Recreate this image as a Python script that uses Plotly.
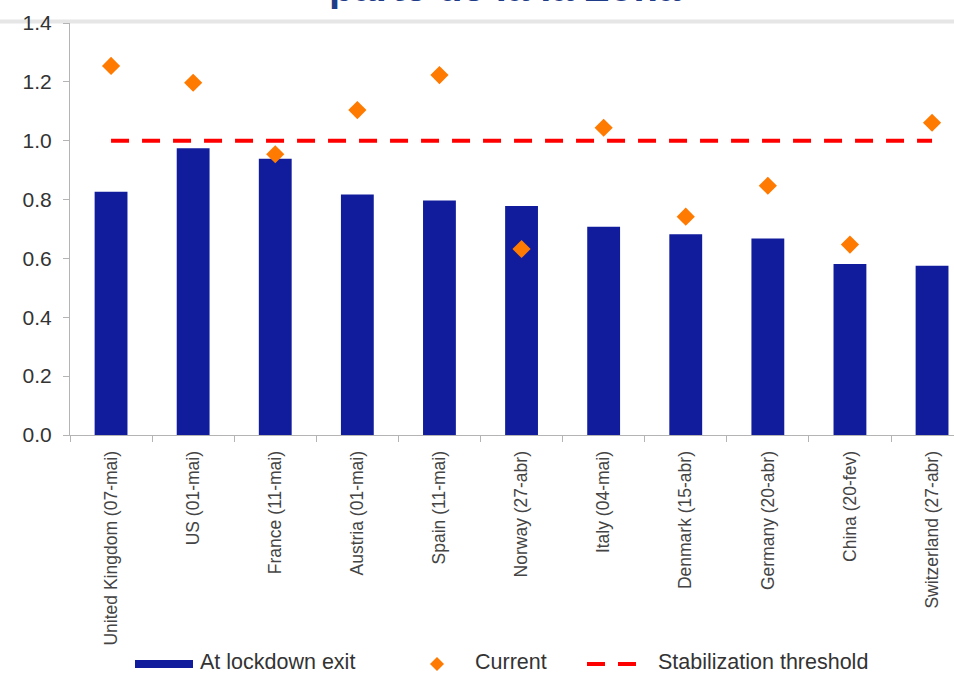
import plotly.graph_objects as go

# Data: reproduction number by country (date of lockdown exit in brackets)
countries = [
    "United Kingdom (07-mai)", "US (01-mai)", "France (11-mai)", "Austria (01-mai)",
    "Spain (11-mai)", "Norway (27-abr)", "Italy (04-mai)", "Denmark (15-abr)",
    "Germany (20-abr)", "China (20-fev)", "Switzerland (27-abr)",
]
at_lockdown_exit = [0.827, 0.974, 0.939, 0.817, 0.797, 0.778, 0.708, 0.682, 0.668, 0.581, 0.575]
current = [1.254, 1.197, 0.954, 1.104, 1.223, 0.632, 1.044, 0.742, 0.847, 0.647, 1.061]
threshold = [1.0] * len(countries)
y_ticks = [0.0, 0.2, 0.4, 0.6, 0.8, 1.0, 1.2, 1.4]
title_text = "parte de la la Zona"
series_names = ["At lockdown exit", "Current", "Stabilization threshold"]

BLUE = "#101C9C"
ORANGE = "#FF7A00"
RED = "#FF0000"
AXIS = "#b4b4b4"
TEXT = "#333333"
FONT = "Liberation Sans, Arial, sans-serif"

# plot-area geometry in pixels (used to place the key and annotations in paper units)
W_FIG, H_FIG = 954, 675
L, T, B = 70, 23, 435
PW, PH = W_FIG - L, B - T


def px_x(px):
    return (px - L) / PW


def px_y(py):
    return (B - py) / PH


fig = go.Figure()

fig.add_trace(go.Bar(
    x=countries, y=at_lockdown_exit, width=0.4,
    marker=dict(color=BLUE, line=dict(width=0)),
    name=series_names[0],
))
fig.add_trace(go.Scatter(
    x=countries, y=threshold, mode="lines",
    line=dict(color=RED, width=4, dash="18px,13px"),
    name=series_names[2],
))
fig.add_trace(go.Scatter(
    x=countries, y=current, mode="markers",
    marker=dict(symbol="diamond", size=14, color=ORANGE),
    name=series_names[1],
))

# key below the chart: symbols as shapes, labels as annotations
KEY_Y = px_y(664)
key_shapes = [
    dict(type="line", xref="paper", yref="paper",
         x0=px_x(135), x1=px_x(193), y0=KEY_Y, y1=KEY_Y,
         line=dict(color=BLUE, width=8)),
    dict(type="path", xref="paper", yref="paper",
         xsizemode="pixel", ysizemode="pixel",
         xanchor=px_x(437), yanchor=KEY_Y,
         path="M -7,0 L 0,7 L 7,0 L 0,-7 Z",
         fillcolor=ORANGE, line=dict(width=0)),
    dict(type="line", xref="paper", yref="paper",
         x0=px_x(587), x1=px_x(636), y0=KEY_Y, y1=KEY_Y,
         line=dict(color=RED, width=4, dash="18px,13px")),
]
key_labels = [
    dict(text=name, xref="paper", yref="paper", x=px_x(xl), y=px_y(662),
         xanchor="left", yanchor="middle", showarrow=False,
         font=dict(family=FONT, size=21.5, color=TEXT))
    for name, xl in zip(series_names, [198, 473, 656])
]

fig.update_layout(
    width=W_FIG, height=H_FIG,
    margin=dict(l=L, r=0, t=T, b=H_FIG - B, pad=0),
    paper_bgcolor="white", plot_bgcolor="white",
    font=dict(family=FONT, color=TEXT),
    showlegend=False,
    xaxis=dict(
        type="category", range=[-0.5, -0.5 + PW / 82.1],
        showline=True, linecolor=AXIS, linewidth=1,
        ticks="outside", tickson="boundaries", ticklen=6, tickcolor=AXIS,
        tickangle=-90, tickfont=dict(family=FONT, size=17.5, color="#444444"),
        ticklabelstandoff=8,
        showgrid=False, zeroline=False,
    ),
    yaxis=dict(
        range=[0, 1.4], tickvals=y_ticks, tickformat=".1f",
        showline=True, linecolor=AXIS, linewidth=1,
        ticks="outside", ticklen=6, tickcolor=AXIS,
        tickfont=dict(family=FONT, size=21, color=TEXT),
        ticklabelstandoff=7,
        showgrid=False, zeroline=False,
    ),
    shapes=[
        dict(type="line", xref="paper", yref="paper",
             x0=px_x(0), x1=px_x(W_FIG), y0=px_y(21.5), y1=px_y(21.5),
             line=dict(color="#e6e6e6", width=4), layer="below"),
    ] + key_shapes,
    annotations=[
        dict(text=title_text, xref="paper", yref="paper",
             x=px_x(505), y=px_y(-13), xanchor="center", yanchor="middle",
             showarrow=False,
             font=dict(family=FONT, size=40, color="#1F3C88", weight="bold")),
    ] + key_labels,
)

fig.write_html("out.html")
